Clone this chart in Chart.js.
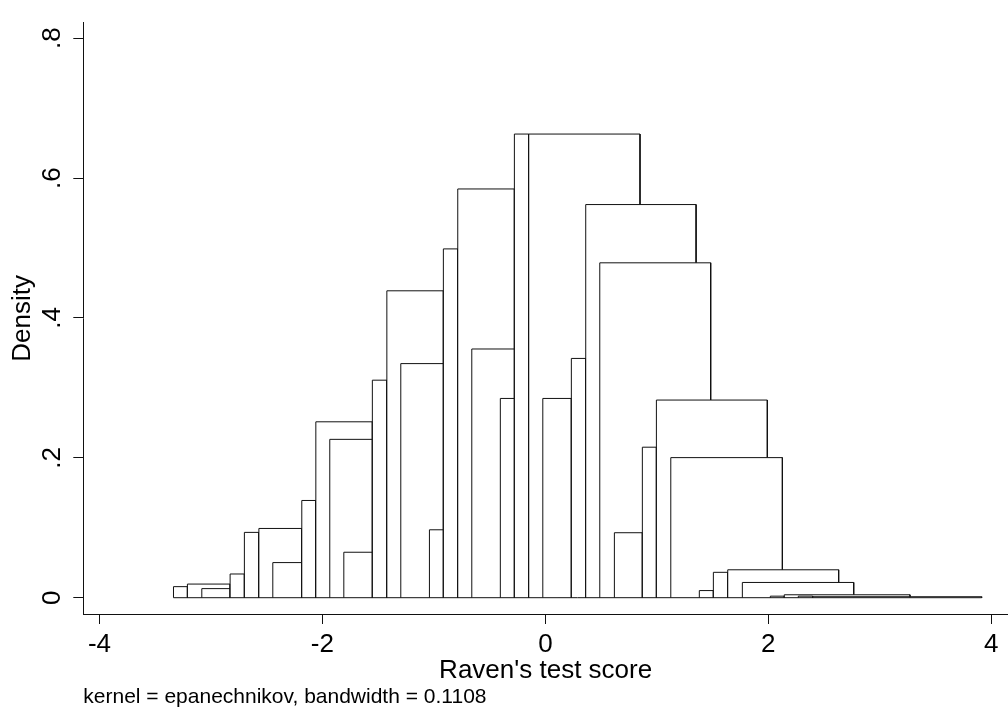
<!DOCTYPE html>
<html>
<head>
<meta charset="utf-8">
<script src="https://cdn.jsdelivr.net/npm/chart.js@4/dist/chart.umd.min.js"></script>
<style>
html,body{margin:0;padding:0;background:#fff}
canvas{display:block}
</style>
</head>
<body>
<canvas id="c" width="1008" height="725"></canvas>
<script>
// Histogram bins (left edge, right edge, density)
const binLeft  = [-3.336,-3.211,-3.082,-2.828,-2.700,-2.570,-2.445,-2.185,-2.059,-1.934,-1.808,-1.552,-1.422,-1.297,-1.040,-0.915,-0.786,-0.660,-0.404,-0.278,-0.149,-0.023,0.233,0.362,0.488,0.619,0.870,0.996,1.125,1.381,1.507,1.636,1.767,2.018,2.143,2.269,2.398];
const binRight = [-3.211,-2.828,-2.828,-2.700,-2.570,-2.185,-2.185,-2.059,-1.552,-1.552,-1.552,-1.422,-0.915,-0.915,-0.915,-0.786,-0.278,-0.278,-0.278,-0.149,0.849,0.233,0.362,1.352,1.483,0.870,0.996,1.991,2.126,1.507,1.636,2.631,2.766,2.143,3.271,2.398,3.914];
const density  = [0.0158,0.0195,0.0130,0.0339,0.0934,0.0990,0.0502,0.1390,0.2515,0.2264,0.0650,0.3110,0.4388,0.3347,0.0971,0.4987,0.5844,0.3556,0.2849,0.6629,0.6629,0.2849,0.3421,0.5621,0.4788,0.0929,0.2152,0.2826,0.2003,0.0102,0.0363,0.0399,0.0218,0.0022,0.0042,0.0022,0.0014];

const xTicks = [-4,-2,0,2,4];
const xTickLabels = ['-4','-2','0','2','4'];
const yTicks = [0,0.2,0.4,0.6,0.8];
const yTickLabels = ['0','.2','.4','.6','.8'];
const xTitle = "Raven's test score";
const yTitle = 'Density';
const note = 'kernel = epanechnikov, bandwidth = 0.1108';

const FONT = "'Liberation Sans', Arial, Helvetica, sans-serif";
const INK = '#111';

const datasets = binLeft.map((l, i) => ({
  data: [{x:l,y:0},{x:l,y:density[i]},{x:binRight[i],y:density[i]},{x:binRight[i],y:0}],
  borderColor: INK,
  borderWidth: 1,
  backgroundColor: '#ffffff',
  fill: 'origin',
  pointRadius: 0,
  pointHoverRadius: 0,
  tension: 0,
  order: binLeft.length - i + 1
}));
datasets.push({
  data: [{x:Math.min(...binLeft),y:0},{x:Math.max(...binRight),y:0}],
  borderColor: INK, borderWidth: 1, fill: false, pointRadius: 0, tension: 0, order: 0
});

const axisGrid = {display:true, drawOnChartArea:false, drawTicks:true, tickLength:10, tickColor:INK, tickWidth:1};
const axisBorder = {display:true, color:INK, width:1};

new Chart(document.getElementById('c').getContext('2d'), {
  type: 'line',
  data: { datasets },
  options: {
    responsive: false,
    animation: false,
    devicePixelRatio: 1,
    events: [],
    layout: { padding: { top: 8, left: 0, right: 0, bottom: 15.5 } },
    plugins: {
      legend: { display: false },
      tooltip: { enabled: false },
      subtitle: {
        display: true, text: note, position: 'bottom', align: 'start', fullSize: false,
        color: '#000', font: { family: FONT, size: 21, weight: 'normal', lineHeight: 1.2 },
        padding: { top: 0, bottom: 0 }
      }
    },
    scales: {
      x: {
        type: 'linear', min: -4.145, max: 4.15,
        afterBuildTicks: s => { s.ticks = xTicks.map(v => ({value: v})); },
        afterFit: s => { s.height = 70.3; },
        border: axisBorder, grid: axisGrid,
        ticks: { autoSkip:false, minRotation:0, maxRotation:0, padding:8.3, color:'#000',
                 font:{family:FONT,size:26,lineHeight:1}, callback:(v,i)=>xTickLabels[i] },
        title: { display:true, text:xTitle, color:'#000', font:{family:FONT,size:26,lineHeight:1}, padding:{top:0,bottom:0} }
      },
      y: {
        type: 'linear', min: -0.0233, max: 0.8219,
        afterBuildTicks: s => { s.ticks = yTicks.map(v => ({value: v})); },
        afterFit: s => { s.width = 83.3; },
        border: axisBorder, grid: axisGrid,
        ticks: { autoSkip:false, minRotation:90, maxRotation:90, crossAlign:'center', padding:9.85, color:'#000',
                 font:{family:FONT,size:26,lineHeight:1}, callback:(v,i)=>yTickLabels[i] },
        title: { display:true, text:yTitle, color:'#000', font:{family:FONT,size:26,lineHeight:1}, padding:{top:10,bottom:0} }
      }
    }
  }
});
</script>
</body>
</html>
